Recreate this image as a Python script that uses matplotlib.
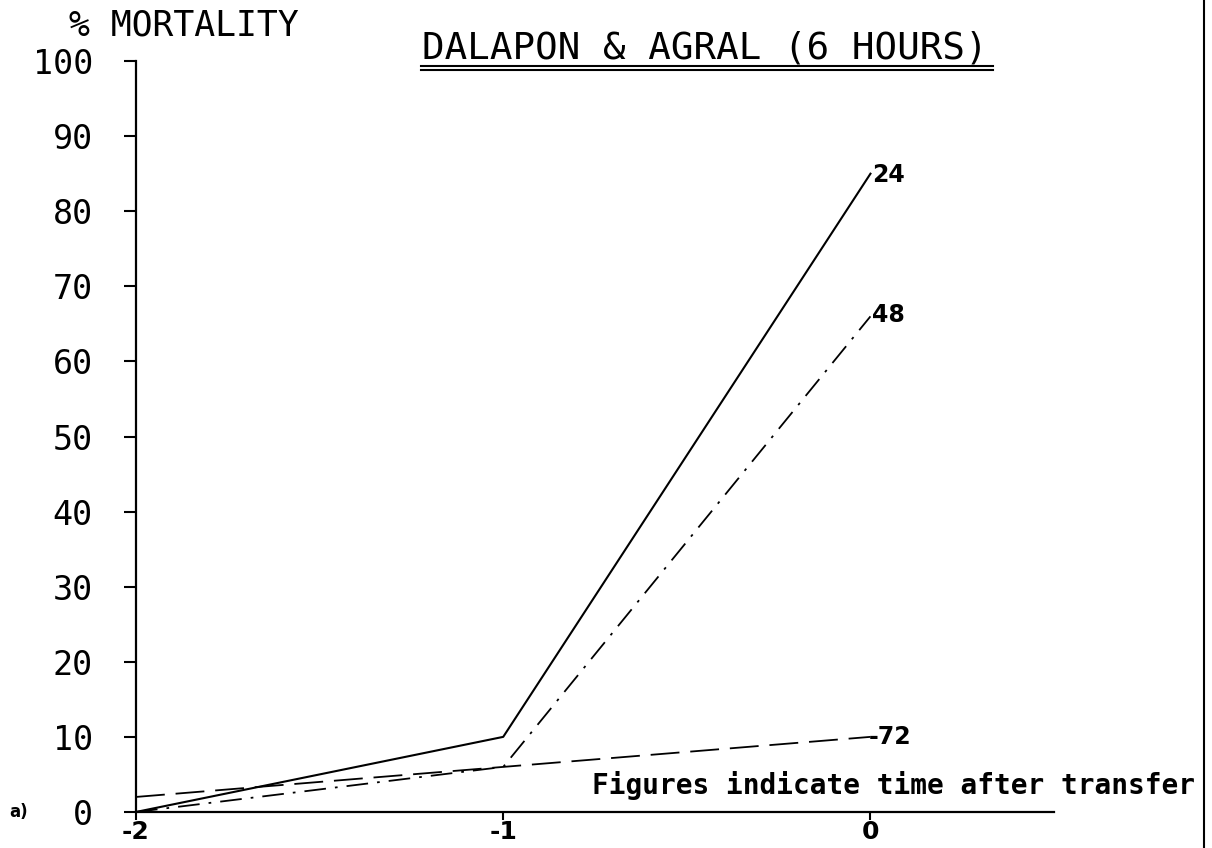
import matplotlib.pyplot as plt
from matplotlib.lines import Line2D

# donnees
weeks = [-2, -1, 0]
mort_24 = [0, 10, 85]
mort_48 = [0, 6, 66]
mort_72 = [2, 6, 10]
yticks = list(range(0, 101, 10))

MONO = 'DejaVu Sans Mono'

fig = plt.figure(figsize=(12.12, 8.48), dpi=100)
ax = fig.add_axes([0.1122, 0.0425, 0.7575, 0.8855])

ax.plot(weeks, mort_24, color='black', lw=1.5, ls='-')
ax.plot(weeks, mort_48, color='black', lw=1.3, ls=(0, (12, 5, 1.5, 5)))
ax.plot(weeks, mort_72, color='black', lw=1.3, ls=(0, (16, 6)))

lab_font = dict(fontsize=17, fontweight='heavy', va='center', ha='left')
ax.annotate('24', (weeks[-1], mort_24[-1]), xytext=(1, -1), textcoords='offset points', **lab_font)
ax.annotate('48', (weeks[-1], mort_48[-1]), xytext=(1, 1), textcoords='offset points', **lab_font)
ax.annotate('-72', (weeks[-1], mort_72[-1]), xytext=(-1, 0), textcoords='offset points', **lab_font)

ax.set_xlim(-2, 0.5)
ax.set_ylim(0, 100)
ax.set_yticks(yticks)
ax.set_xticks(weeks)
ax.set_xticklabels(['-2', '-1', '0'], fontsize=18, fontweight='heavy')
ax.set_yticklabels([str(v) for v in yticks], fontsize=24, family=MONO)
ax.tick_params(axis='y', length=9, width=1.5, direction='out', pad=22)
ax.tick_params(axis='x', length=6, width=1.5, direction='out', pad=0)

for side in ['top', 'right']:
    ax.spines[side].set_visible(False)
ax.spines['left'].set_linewidth(1.6)
ax.spines['bottom'].set_linewidth(1.6)

fig.text(0.986, 0.064, 'Figures indicate time after transfer', fontsize=20,
         fontweight='heavy', family=MONO, ha='right', va='baseline')

fig.text(0.057, 0.958, '% MORTALITY', fontsize=25, family=MONO, va='baseline', ha='left')
fig.text(0.348, 0.931, 'DALAPON & AGRAL (6 HOURS)', fontsize=27,
         family=MONO, va='baseline', ha='left')
fig.add_artist(Line2D([0.347, 0.819], [0.922, 0.922], color='black', lw=1.5))
fig.add_artist(Line2D([0.347, 0.819], [0.917, 0.917], color='black', lw=1.5))
fig.text(0.008, 0.0425, 'a)', fontsize=12, fontweight='heavy', va='center', ha='left')

# cadre a droite
fig.add_artist(Line2D([0.9935, 0.9935], [0.0, 1.0], color='black', lw=1.5))

fig.savefig('out.png', dpi=100, facecolor='white')
